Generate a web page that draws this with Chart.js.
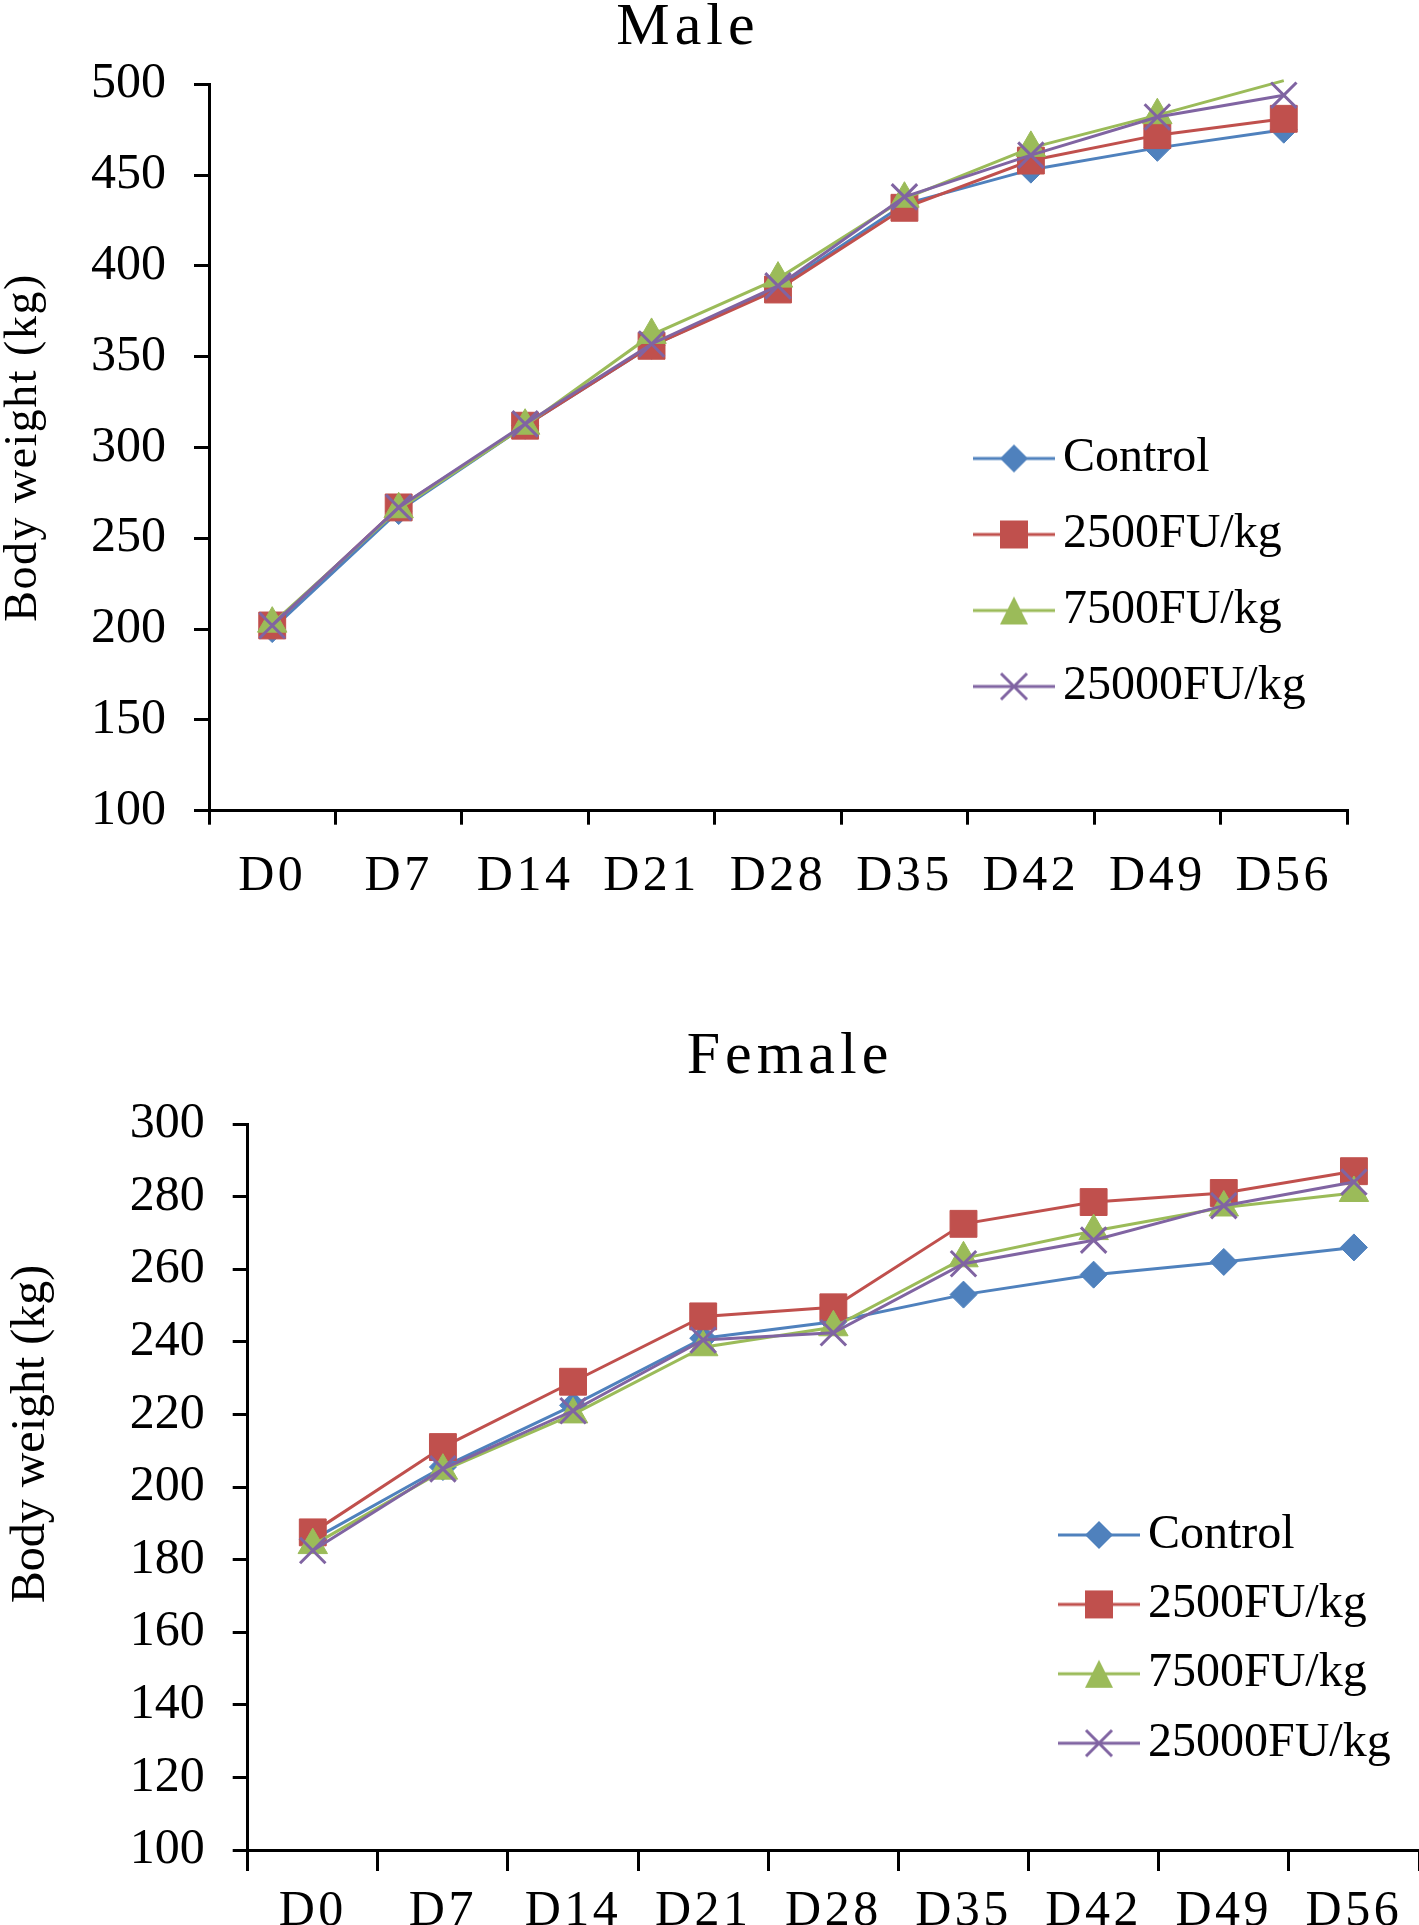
<!DOCTYPE html>
<html lang="en">
<head>
<meta charset="UTF-8">
<title>Body weight - Male / Female</title>
<script src="https://cdn.jsdelivr.net/npm/chart.js@4.4.1/dist/chart.umd.min.js"></script>
<style>
  body { margin: 0; background: #fff; overflow: hidden; }
  canvas { position: absolute; left: 0; }
  #male { top: 0; }
  #female { top: 1000px; }
</style>
</head>
<body>
<canvas id="male" width="1419" height="1000"></canvas>
<canvas id="female" width="1419" height="925"></canvas>

<script>
// Sampling days
var days = ['D0', 'D7', 'D14', 'D21', 'D28', 'D35', 'D42', 'D49', 'D56'];
var seriesNames = ['Control', '2500FU/kg', '7500FU/kg', '25000FU/kg'];

// Male body weight (kg)
var maleControl = [200, 265, 312, 356, 388, 434, 453, 465, 475];
var male2500 = [202, 267, 312, 356, 387, 432, 458, 472, 481];
var male7500 = [203, 266, 312, 362, 393, 437, 465, 483, 502];
var male25000 = [202, 267, 313, 357, 389, 438, 461, 482, 494];

// Female body weight (kg)
var femaleControl = [185.5, 205.5, 222.5, 241, 245.5, 253, 258.5, 262, 266];
var female2500 = [187.5, 211, 229, 247, 249.5, 272.5, 278.5, 281, 287];
var female7500 = [184, 204.5, 220, 238.5, 244, 263, 270.5, 277, 281];
var female25000 = [182.5, 205, 221, 240.5, 242.5, 261.5, 268, 277.5, 284];

var seriesColors = ['#4F81BD', '#C0504D', '#9BBB59', '#8064A2'];
var seriesMarkers = ['rectRot', 'rect', 'triangle', 'crossRot'];
var markerRadius = [13.5, 19, 17, 18];

Chart.defaults.font.family = "'Liberation Serif', 'Times New Roman', serif";
Chart.defaults.color = '#000';

// legend swatch: line with marker through it
function legendIcon(i) {
    var c = document.createElement('canvas');
    c.width = 82;
    c.height = 40;
    var g = c.getContext('2d');
    g.strokeStyle = seriesColors[i];
    g.fillStyle = seriesColors[i];
    g.lineWidth = 3;
    g.beginPath();
    g.moveTo(0, 20);
    g.lineTo(82, 20);
    g.stroke();
    g.beginPath();
    if (i === 0) {
        g.moveTo(41, 6); g.lineTo(55, 20); g.lineTo(41, 34); g.lineTo(27, 20);
        g.closePath(); g.fill();
    } else if (i === 1) {
        g.fillRect(27, 6, 28, 28);
    } else if (i === 2) {
        g.moveTo(41, 6); g.lineTo(55, 34); g.lineTo(27, 34);
        g.closePath(); g.fill();
    } else {
        g.moveTo(28, 7); g.lineTo(54, 33);
        g.moveTo(54, 7); g.lineTo(28, 33);
        g.stroke();
    }
    return c;
}
var legendIcons = [0, 1, 2, 3].map(legendIcon);

// wraps a draw method so its text gets letter spacing (and an optional vertical shift)
function spaced(obj, method, spacing, dy) {
    var orig = obj[method];
    obj[method] = function () {
        var ctx = this.ctx;
        ctx.save();
        ctx.letterSpacing = spacing + 'px';
        ctx.translate(0, dy);
        orig.apply(this, arguments);
        ctx.restore();
    };
}

// puts the legend inside the plot and centres the title where the figure has it
var placer = {
    id: 'placer',
    afterLayout: function (chart, args, o) {
        var lg = chart.legend;
        lg.left = o.legendX;
        lg.right = o.legendX + 460;
        lg.top = o.legendY;
        lg.bottom = o.legendY + 500;
        var tb = chart.titleBlock;
        tb.left = o.titleX - 400;
        tb.right = o.titleX + 400;
        if (!chart.$spaced) {
            chart.$spaced = true;
            spaced(tb, 'draw', 5, 0);
            spaced(chart.scales.x, 'drawLabels', 3.5, 0);
            spaced(chart.scales.y, 'drawTitle', o.yTitleSpacing, o.yTitleShift);
        }
    }
};

function makeDatasets(seriesList, yMax) {
    return seriesList.map(function (values, i) {
        return {
            label: seriesNames[i],
            data: values,
            borderColor: seriesColors[i],
            backgroundColor: seriesColors[i],
            borderWidth: 3,
            pointStyle: seriesMarkers[i],
            pointRadius: function (c) {
                return c.raw > yMax ? 0 : markerRadius[i];
            },
            pointBorderWidth: i === 3 ? 3 : 1,
            pointBackgroundColor: seriesColors[i],
            pointBorderColor: seriesColors[i],
            tension: 0,
            clip: false,
            order: 4 - i
        };
    });
}

function makeChart(id, cfg) {
    return new Chart(document.getElementById(id), {
        type: 'line',
        data: {
            labels: days,
            datasets: makeDatasets(cfg.series, cfg.yMax)
        },
        options: {
            responsive: false,
            animation: false,
            events: [],
            layout: {
                autoPadding: false,
                padding: { left: 0, right: cfg.padRight, top: 0, bottom: 0 }
            },
            plugins: {
                title: {
                    display: true,
                    text: cfg.title,
                    color: '#000',
                    font: { size: 60, lineHeight: 0.75, weight: 'normal' },
                    padding: cfg.titlePad
                },
                legend: {
                    position: 'chartArea',
                    align: 'start',
                    labels: {
                        usePointStyle: true,
                        pointStyleWidth: 50,
                        color: '#000',
                        font: { size: 48 },
                        padding: cfg.legendPad,
                        generateLabels: function (chart) {
                            return chart.data.datasets.map(function (ds, i) {
                                return {
                                    text: ds.label,
                                    pointStyle: legendIcons[i],
                                    fillStyle: ds.backgroundColor,
                                    strokeStyle: ds.borderColor,
                                    lineWidth: 0,
                                    hidden: false,
                                    datasetIndex: i,
                                    fontColor: '#000'
                                };
                            });
                        }
                    }
                },
                tooltip: { enabled: false },
                placer: {
                    legendX: cfg.legendX,
                    legendY: cfg.legendY,
                    titleX: cfg.titleX,
                    yTitleSpacing: cfg.yTitleSpacing,
                    yTitleShift: cfg.yTitleShift
                }
            },
            scales: {
                x: {
                    type: 'category',
                    offset: true,
                    grid: { offset: true, drawOnChartArea: false, tickLength: cfg.xTick, lineWidth: 3, color: '#000' },
                    border: { color: '#000', width: 3 },
                    ticks: { font: { size: 50 }, color: '#000', padding: cfg.xPad, autoSkip: false, maxRotation: 0, minRotation: 0 },
                    afterFit: function (s) {
                        s.height = cfg.xHeight;
                        s.paddingLeft = 0;
                        s.paddingRight = 0;
                    }
                },
                y: {
                    min: cfg.yMin,
                    max: cfg.yMax,
                    ticks: { stepSize: cfg.yStep, font: { size: 50 }, color: '#000', padding: 28 },
                    grid: { drawOnChartArea: false, tickLength: 15, lineWidth: 3, color: '#000' },
                    border: { color: '#000', width: 3 },
                    title: {
                        display: true,
                        text: 'Body weight (kg)',
                        color: '#000',
                        font: { size: cfg.yTitleSize, lineHeight: 1 },
                        padding: { top: cfg.yTitlePad, bottom: 0 }
                    },
                    afterFit: function (s) { s.width = cfg.yWidth; }
                }
            }
        },
        plugins: [placer]
    });
}

makeChart('male', {
    title: 'Male',
    series: [maleControl, male2500, male7500, male25000],
    yMin: 100, yMax: 500, yStep: 50,
    padRight: 72,
    titlePad: { top: 6, bottom: 33.3 },
    titleX: 688,
    legendX: 961, legendY: 406.5, legendPad: 28,
    xTick: 14, xPad: 22, xHeight: 189.3,
    yWidth: 209,
    yTitleSize: 46, yTitlePad: 1, yTitleSpacing: 1.5, yTitleShift: 0
});

makeChart('female', {
    title: 'Female',
    series: [femaleControl, female2500, female7500, female25000],
    yMin: 100, yMax: 300, yStep: 20,
    padRight: 0,
    titlePad: { top: 35, bottom: 44 },
    titleX: 790,
    legendX: 1052.6, legendY: 489.6, legendPad: 21.4,
    xTick: 21, xPad: 11, xHeight: 75,
    yWidth: 247.7,
    yTitleSize: 48, yTitlePad: 7.7, yTitleSpacing: 0, yTitleShift: -53
});
</script>
</body>
</html>
